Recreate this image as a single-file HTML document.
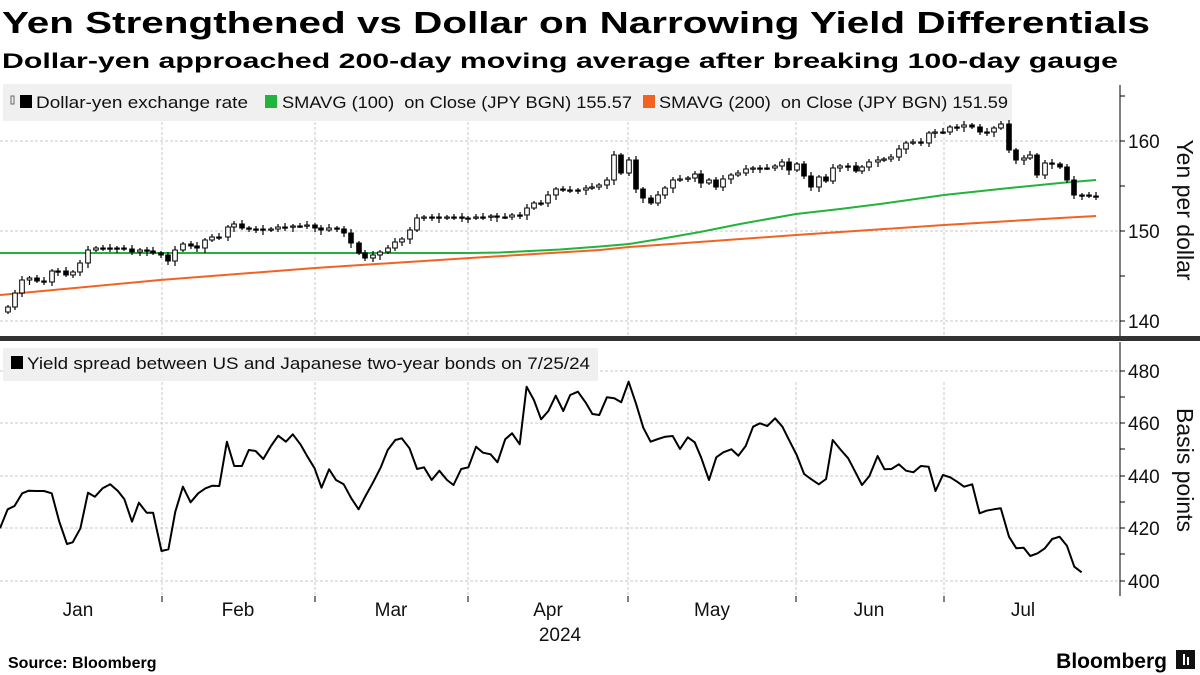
<!DOCTYPE html>
<html><head><meta charset="utf-8"><style>
body{margin:0;background:#fff;width:1200px;height:675px;overflow:hidden;font-family:"Liberation Sans",sans-serif}
svg{position:absolute;left:0;top:0}
</style></head><body>
<svg id="s" width="1200" height="675" viewBox="0 0 1200 675" xmlns="http://www.w3.org/2000/svg" font-family="Liberation Sans, sans-serif">
<text x="2" y="33" font-size="31" font-weight="bold" textLength="1148" lengthAdjust="spacingAndGlyphs">Yen Strengthened vs Dollar on Narrowing Yield Differentials</text>
<text x="2" y="68" font-size="21" font-weight="bold" textLength="1116" lengthAdjust="spacingAndGlyphs">Dollar-yen approached 200-day moving average after breaking 100-day gauge</text>
<g id="grid" stroke="#c8c8c8" stroke-dasharray="3,2" stroke-width="1"></g>
<rect x="3" y="84" width="1009" height="37" fill="#f0f0f0"/>
<rect x="3" y="348" width="595" height="33" fill="#f0f0f0"/>
<g font-size="16.5" fill="#111">
<rect x="11" y="96" width="3" height="8" fill="none" stroke="#666" stroke-width="1"/>
<rect x="20" y="95" width="12" height="13" fill="#000"/>
<text x="36" y="108" textLength="212" lengthAdjust="spacingAndGlyphs">Dollar-yen exchange rate</text>
<rect x="265" y="95" width="12" height="13" fill="#22b33a"/>
<text x="282" y="108" textLength="350" lengthAdjust="spacingAndGlyphs">SMAVG (100)&#160;&#160;on Close (JPY BGN) 155.57</text>
<rect x="643" y="95" width="12" height="13" fill="#f26322"/>
<text x="659" y="108" textLength="349" lengthAdjust="spacingAndGlyphs">SMAVG (200)&#160;&#160;on Close (JPY BGN) 151.59</text>
<rect x="11" y="356" width="12" height="13" fill="#000"/>
<text x="27" y="369" textLength="563" lengthAdjust="spacingAndGlyphs">Yield spread between US and Japanese two-year bonds on 7/25/24</text>
</g>
<g id="lines"></g>
<g id="candles"></g>
<rect x="0" y="336" width="1200" height="5" fill="#333"/>
<g stroke="#000" stroke-width="1">
<line x1="1120" y1="85" x2="1120" y2="336"/>
<line x1="1120" y1="342" x2="1120" y2="596"/>
</g>
<g id="ticks" stroke="#000"></g>
<g font-size="19" fill="#111">
<text x="1128" y="148">160</text><text x="1128" y="238">150</text><text x="1128" y="328">140</text>
<text x="1128" y="378">480</text><text x="1128" y="430">460</text><text x="1128" y="483">440</text><text x="1128" y="535">420</text><text x="1128" y="588">400</text>
<text x="78" y="616" text-anchor="middle">Jan</text><text x="238" y="616" text-anchor="middle">Feb</text><text x="391" y="616" text-anchor="middle">Mar</text><text x="548" y="616" text-anchor="middle">Apr</text><text x="712" y="616" text-anchor="middle">May</text><text x="869" y="616" text-anchor="middle">Jun</text><text x="1023" y="616" text-anchor="middle">Jul</text>
<text x="560" y="641" text-anchor="middle">2024</text>
</g>
<text font-size="23" fill="#111" transform="translate(1177,210) rotate(90)" text-anchor="middle">Yen per dollar</text>
<text font-size="23" fill="#111" transform="translate(1177,470) rotate(90)" text-anchor="middle">Basis points</text>
<text x="8" y="668" font-size="16" font-weight="bold">Source: Bloomberg</text>
<text x="1167" y="668" font-size="21" font-weight="bold" text-anchor="end">Bloomberg</text>
<rect x="1176" y="650" width="19" height="19" fill="#111"/>
<rect x="1183" y="654" width="2" height="11" fill="#fff"/><rect x="1187" y="657" width="2" height="8" fill="#fff"/>
</svg>
<script>
var NS="http://www.w3.org/2000/svg";
function el(p,t,a){var e=document.createElementNS(NS,t);for(var k in a)e.setAttribute(k,a[k]);document.getElementById(p).appendChild(e);return e;}
[162,315,468,628,796,944].forEach(function(x){el("grid","line",{x1:x,y1:122,x2:x,y2:336});el("grid","line",{x1:x,y1:382,x2:x,y2:598});el("ticks","line",{x1:x,y1:596,x2:x,y2:602});});
[141,231,321].forEach(function(y){el("grid","line",{x1:0,y1:y,x2:1118,y2:y});});
[371,423,476,528,581].forEach(function(y){el("grid","line",{x1:0,y1:y,x2:1118,y2:y});});
for(var y=96;y<336;y+=45){el("ticks","line",{x1:1120,y1:y,x2:1125,y2:y});}
[371,397,423,449,476,502,528,554,581].forEach(function(y){el("ticks","line",{x1:1120,y1:y,x2:1125,y2:y});});
var y1=[[0,565],[20,508],[38,498],[58,460],[75,452],[95,453],[115,453],[135,460],[155,545],[175,612],[190,607],[210,565],[230,458],[248,470],[268,445],[288,433],[308,453],[325,478],[345,545],[363,488],[383,518],[400,518],[422,633],[440,628],[458,515],[478,440],[498,487],[518,460],[537,445],[555,437],[573,438],[593,305],[612,378],[632,378],[650,330],[668,333],[688,357],[708,318],[727,287],[747,305],[765,283],[785,313],[805,353],[822,385],[840,443],[860,388],[878,420],[898,433],[918,475],[937,508],[955,468],[975,427],[995,382],[1013,330],[1033,300],[1050,295],[1070,325],[1090,387],[1108,382],[1128,420],[1148,392],[1168,420],[1185,435],[1205,387],[1224,382],[1244,320],[1262,338],[1282,343],[1300,367],[1320,298],[1338,280],[1358,313],[1376,140],[1395,180],[1414,238],[1433,213],[1452,167],[1472,213],[1490,165],[1510,155],[1530,187],[1548,222],[1566,225]];
var y2=[[115,172],[133,175],[150,187],[168,125],[186,190],[204,263],[222,305],[240,297],[258,290],[276,288],[294,327],[313,292],[330,307],[346,353],[365,420],[383,352],[400,337],[420,328],[437,347],[455,318],[473,260],[490,250],[508,258],[527,235],[545,260],[562,302],[580,345],[598,402],[616,418],[634,433],[652,417],[668,300],[686,327],[706,355],[724,397],[740,435],[758,408],[778,348],[795,388],[812,387],[830,373],[848,392],[866,397],[884,378],[903,380],[920,453],[938,405],[956,412],[973,425],[990,440],[1010,433],[1028,520],[1045,512],[1063,508],[1080,505],[1100,590],[1118,625],[1136,623],[1152,648],[1170,640],[1188,625],[1206,597],[1224,590],[1242,617],[1260,680],[1278,697]];
var yp=y1.map(function(p){return [p[0]/2.613,p[1]/3+340]}).concat(y2.map(function(p){return [p[0]/2.45+560,p[1]/3+340]}));
el("lines","polyline",{points:yp.map(function(p){return p[0].toFixed(1)+","+p[1].toFixed(1)}).join(" "),fill:"none",stroke:"#000","stroke-width":2,"stroke-linejoin":"round"});
el("lines","polyline",{points:"0,253 200,253 470,253 500,252.5 530,251 560,249.5 600,246.5 629,244 660,239 700,232 740,224 796,214 840,209 880,204 944,195 1000,189 1060,183 1096,180",fill:"none",stroke:"#22b33a","stroke-width":2});
el("lines","polyline",{points:"0,295 160,280 315,268 470,258 600,250 629,247 796,235 944,225 1060,218 1096,216",fill:"none",stroke:"#f26322","stroke-width":2});
var xs1=[8,15,22,29.5,37,44,52,58,66,73,80,88,96,103,110,117,124,132,140,147,153,161,168,175,183,191,197,205,212,219,228,234,242,249,256,263,271,278,285,293,300,307,315,321,329,337,344,351,359,365,373,380,388,395,402,410,417,424,432,439,447,454,462,468,476,483,491,497,505,512,520,527,534,541,548,556,563,570,578,586,592,599];
var cs1=[307,293,280,278,281,282,271,271,275,272,263,250,248,248,248,248,249,252,250,251,253,255,261,250,244,246,248,240,237,237,227,224,228,229,229,230,229,227,227,226,226,225,228,230,228,229,233,243,253,258,255,252,248,242,239,230,218,217,217,218,217,217,218,218,217,217,216,217,217,215,215,208,203,203,195,189,190,190,190,188,187,185];
var c2=[[607,180],[614,155],[621,173],[629,160],[636,189],[643,198],[651,203],[658,195],[665,188],[673,180],[680,179],[688,178],[695,174],[701,183],[709,180],[716,187],[723,179],[731,175],[738,173],[746,169],[753,168],[760,168],[767,168],[775,166],[782,162],[789,170],[797,164],[804,176],[811,187],[819,177],[826,181],[833,168],[840,166],[848,166],[856,171],[862,167],[869,162],[878,160],[884,159],[891,157],[899,149],[906,143],[913,142],[921,143],[929,133],[935,132],[943,132],[950,127],[957,127],[964,125],[972,127],[980,132],[987,132],[994,128],[1001,124],[1009,150],[1016,160],[1024,158],[1030,155],[1037,175],[1045,163],[1052,164],[1060,167],[1067,180],[1074,195],[1082,195],[1089,196],[1096,197]];
var C=xs1.map(function(x,i){return [x,cs1[i]]}).concat(c2);
var prev=312;
C.forEach(function(c,i){var o=prev,cl=c[1];var top=Math.min(o,cl),bot=Math.max(o,cl);var h=Math.max(bot-top,1.2);
var wt=top-2-(i%3),wb=bot+2+(i%4);
el("candles","line",{x1:c[0],y1:wt,x2:c[0],y2:wb,stroke:"#000","stroke-width":1.2});
var up=cl<o;el("candles","rect",{x:c[0]-2.3,y:top,width:4.6,height:h,fill:up?"#fff":"#000",stroke:"#000","stroke-width":1});
prev=cl;});
</script>
</body></html>
